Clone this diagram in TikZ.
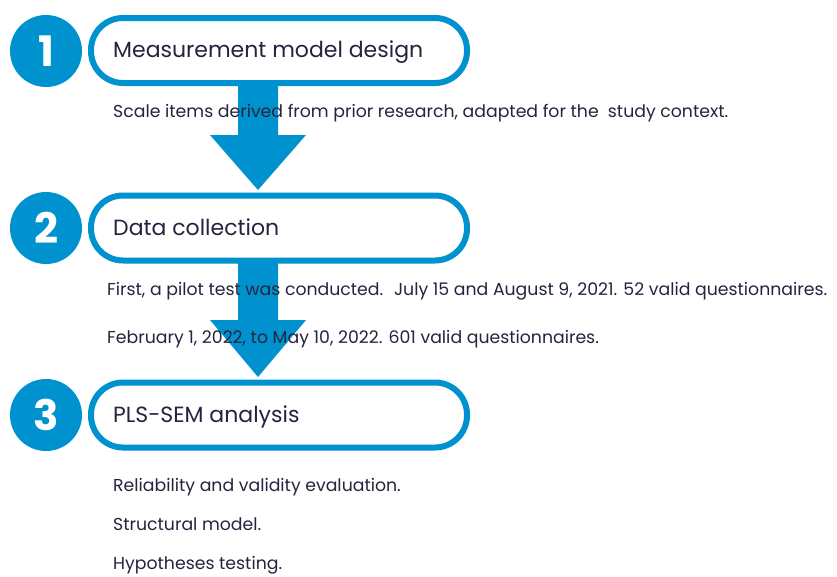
\documentclass[tikz,border=0pt]{standalone}
\usepackage{fontspec}
\setmainfont{Poppins}
\usetikzlibrary{calc}
\definecolor{stepblue}{RGB}{0,146,207}
\definecolor{inkc}{RGB}{36,36,62}
\begin{document}
\begin{tikzpicture}[x=1pt,y=-1pt,
  numcirc/.style={circle,fill=stepblue,minimum size=72pt,inner sep=0pt,text=white,font=\fontsize{42}{42}\selectfont\bfseries},
  pill/.style={draw=stepblue,line width=6pt,rounded corners=32pt,minimum width=376pt,minimum height=65pt,inner sep=0pt,fill=white},
  title/.style={anchor=base west,inner sep=0pt,text=inkc,font=\fontsize{22}{22}\selectfont},
  body/.style={anchor=base west,inner sep=0pt,text=inkc,font=\fontsize{17.3}{17.3}\selectfont},
  flowarrow/.style={fill=stepblue}
]
\useasboundingbox (0,0) rectangle (837,576);
% coordinates for arrows
\coordinate (a1top) at (258,83);
\coordinate (a1tip) at (258,190);
\coordinate (a2top) at (258,261);
\coordinate (a2tip) at (258,377);
% arrows
\fill[flowarrow] ($(a1top)+(-20,0)$) -- ($(a1top)+(20,0)$) -- ($(a1tip)+(20,-55)$) -- ($(a1tip)+(48,-55)$) -- (a1tip) -- ($(a1tip)+(-48,-55)$) -- ($(a1tip)+(-20,-55)$) -- cycle;
\fill[flowarrow] ($(a2top)+(-20,0)$) -- ($(a2top)+(20,0)$) -- ($(a2tip)+(20,-57)$) -- ($(a2tip)+(48,-57)$) -- (a2tip) -- ($(a2tip)+(-48,-57)$) -- ($(a2tip)+(-20,-57)$) -- cycle;
% pills
\node[pill] (p1) at (279,50.5) {};
\node[pill] (p2) at (279,228) {};
\node[pill] (p3) at (279,415) {};
% circles
\node[numcirc] (c1) at (46,51) {1};
\node[numcirc] (c2) at (46,228) {2};
\node[numcirc] (c3) at (46,415) {3};
% titles
\node[title] (t1) at (113,57) {Measurement model design};
\node[title] (t2) at (113,235) {Data collection};
\node[title] (t3) at (113,422) {PLS-SEM analysis};
% body text
\node[body] (b1) at (113,117) {Scale items derived from prior research, adapted for the \ study context.};
\node[body] (b2) at (107,295) {First, a pilot test was conducted. \ July 15 and August 9, 2021. 52 valid questionnaires.};
\node[body] (b3) at (107,343) {February 1, 2022, to May 10, 2022. 601 valid questionnaires.};
\node[body] (b4) at (113,491) {Reliability and validity evaluation.};
\node[body] (b5) at (113,530) {Structural model.};
\node[body] (b6) at (113,569) {Hypotheses testing.};
\end{tikzpicture}
\end{document}
